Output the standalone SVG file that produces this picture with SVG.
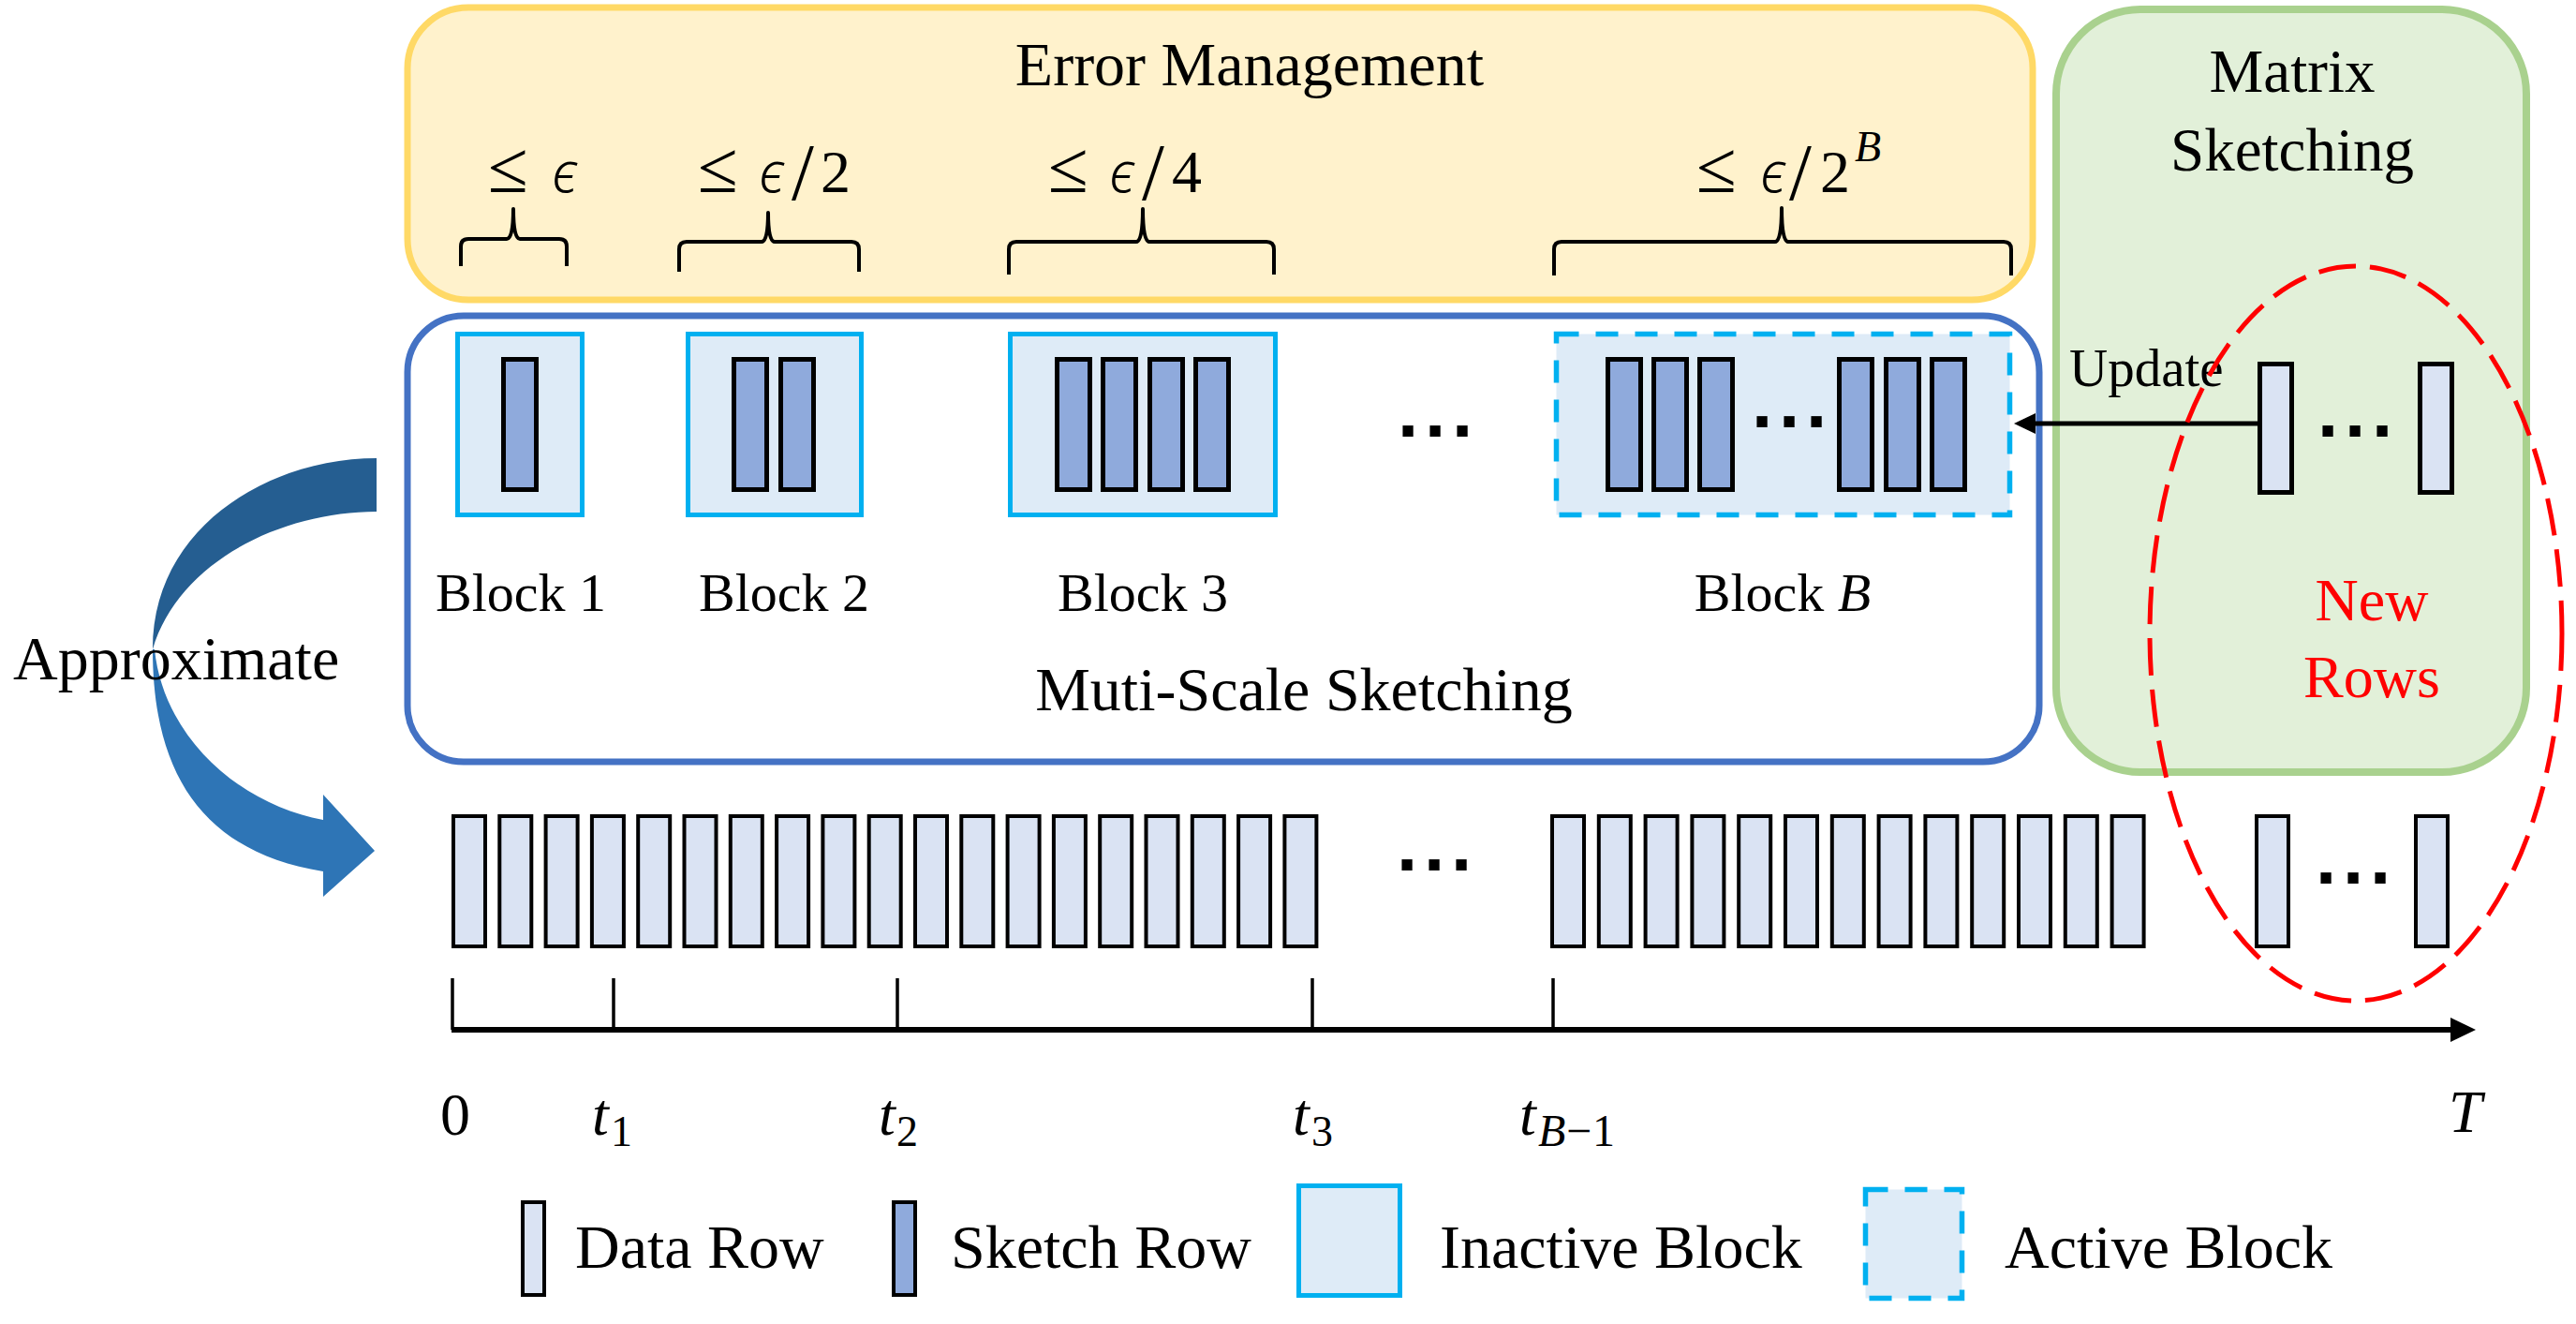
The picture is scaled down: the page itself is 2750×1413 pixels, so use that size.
<svg xmlns="http://www.w3.org/2000/svg" xmlns:xlink="http://www.w3.org/1999/xlink" width="2750" height="1413" viewBox="0 0 2750 1413">
<style>
  .t { font-family: "Liberation Serif", "DejaVu Serif", serif; fill: #000; }
  .m { font-family: "Liberation Serif", "DejaVu Serif", serif; fill: #000; font-size: 64px; }
  .le { font-size: 78px; }
  .sl { font-size: 86px; }
  .eps { font-family: "Noto Sans", "DejaVu Sans", sans-serif; font-style: italic; font-weight: 300; font-size: 60px; }
  .it { font-style: italic; }
  .dots { font-family: "Liberation Sans", sans-serif; font-weight: bold; font-size: 80px; letter-spacing: 6.8px; fill: #000; }
  .data { fill: #DAE3F3; stroke: #000; stroke-width: 4; }
  .sk { fill: #8FAADC; stroke: #000; stroke-width: 5; }
  .inact { fill: #DEEBF7; stroke: #00B0F0; stroke-width: 5; }
  .act { fill: #DEEBF7; stroke: #00B0F0; stroke-width: 5.5; stroke-dasharray: 24 18; }
  .brace { fill: none; stroke: #000; stroke-width: 4; stroke-linejoin: round; }
  .tick { stroke: #000; stroke-width: 3.5; }
  .red { fill: #FF0000; }
</style>
<defs>
  <rect id="dr" width="34" height="139" class="data"/>
  <rect id="sr" width="35" height="139" class="sk"/>
</defs>

<g id="error-management">
  <rect x="435" y="8" width="1735" height="312" rx="65" fill="#FFF2CC" stroke="#FFD966" stroke-width="7"/>
  <text class="t" x="1334" y="91" font-size="66" text-anchor="middle">Error Management</text>
  <text class="m" y="205"><tspan x="521" class="le">≤</tspan><tspan x="589" class="eps">ϵ</tspan></text>
  <text class="m" y="205"><tspan x="745" class="le">≤</tspan><tspan x="810" class="eps">ϵ</tspan><tspan x="845" y="213" class="sl">/</tspan><tspan x="876" y="205">2</tspan></text>
  <text class="m" y="205"><tspan x="1119" class="le">≤</tspan><tspan x="1184" class="eps">ϵ</tspan><tspan x="1219" y="213" class="sl">/</tspan><tspan x="1251" y="205">4</tspan></text>
  <text class="m" y="205"><tspan x="1811" class="le">≤</tspan><tspan x="1879" class="eps">ϵ</tspan><tspan x="1910" y="213" class="sl">/</tspan><tspan x="1943" y="205">2</tspan><tspan x="1980" y="172" class="it" font-size="46">B</tspan></text>
  <path class="brace" d="M492,284 L492,263 Q492,255 500,255 L541,255 Q548,255 548,223 Q548,255 555,255 L597,255 Q605,255 605,263 L605,284"/>
  <path class="brace" d="M725,290 L725,266 Q725,258 733,258 L813,258 Q820,258 820,227 Q820,258 827,258 L909,258 Q917,258 917,266 L917,290"/>
  <path class="brace" d="M1077,293 L1077,266 Q1077,258 1085,258 L1213,258 Q1220,258 1220,223 Q1220,258 1227,258 L1352,258 Q1360,258 1360,266 L1360,293"/>
  <path class="brace" d="M1659,294 L1659,266 Q1659,258 1667,258 L1895,258 Q1902,258 1902,222 Q1902,258 1909,258 L2139,258 Q2147,258 2147,266 L2147,294"/>
</g>

<g id="matrix-sketching">
  <rect x="2195" y="10" width="502" height="814" rx="90" fill="#E2F0D9" stroke="#A9D18E" stroke-width="8"/>
  <text class="t" x="2447" y="98" font-size="65" text-anchor="middle">Matrix</text>
  <text class="t" x="2447" y="182" font-size="65" text-anchor="middle">Sketching</text>
  <rect x="2412.5" y="388.5" width="34" height="137" fill="#DAE3F3" stroke="#000" stroke-width="5"/>
  <rect x="2583.5" y="388.5" width="34" height="137" fill="#DAE3F3" stroke="#000" stroke-width="5"/>
  <text class="dots" x="2474" y="466">...</text>
  <text class="t red" x="2532" y="662" font-size="64" text-anchor="middle">New</text>
  <text class="t red" x="2532" y="744" font-size="64" text-anchor="middle">Rows</text>
</g>

<g id="multi-scale-sketching">
  <rect x="435" y="337" width="1742" height="476" rx="60" fill="#FFFFFF" stroke="#4472C4" stroke-width="7"/>
  <g id="block-1">
    <rect class="inact" x="488.5" y="356.5" width="133" height="193"/>
    <use href="#sr" x="537.5" y="383.5"/>
    <text class="t" x="556" y="652" font-size="58" text-anchor="middle">Block 1</text>
  </g>
  <g id="block-2">
    <rect class="inact" x="734.5" y="356.5" width="185" height="193"/>
    <use href="#sr" x="783.5" y="383.5"/>
    <use href="#sr" x="833.5" y="383.5"/>
    <text class="t" x="837" y="652" font-size="58" text-anchor="middle">Block 2</text>
  </g>
  <g id="block-3">
    <rect class="inact" x="1078.5" y="356.5" width="283" height="193"/>
    <use href="#sr" x="1128.5" y="383.5"/>
    <use href="#sr" x="1177.5" y="383.5"/>
    <use href="#sr" x="1227.5" y="383.5"/>
    <use href="#sr" x="1276.5" y="383.5"/>
    <text class="t" x="1220" y="652" font-size="58" text-anchor="middle">Block 3</text>
  </g>
  <text class="dots" x="1492" y="466">...</text>
  <g id="block-b">
    <rect class="act" x="1661.5" y="356.5" width="484" height="193"/>
    <use href="#sr" x="1716.5" y="383.5"/>
    <use href="#sr" x="1765.5" y="383.5"/>
    <use href="#sr" x="1814.5" y="383.5"/>
    <text class="dots" x="1870" y="456">...</text>
    <use href="#sr" x="1963.5" y="383.5"/>
    <use href="#sr" x="2013.5" y="383.5"/>
    <use href="#sr" x="2062.5" y="383.5"/>
    <text class="t" x="1903" y="652" font-size="58" text-anchor="middle">Block <tspan class="it">B</tspan></text>
  </g>
  <text class="t" x="1392" y="758" font-size="66" text-anchor="middle">Muti-Scale Sketching</text>
</g>

<g id="data-stream">
  <use href="#dr" x="484" y="871"/><use href="#dr" x="533.3" y="871"/><use href="#dr" x="582.6" y="871"/><use href="#dr" x="631.9" y="871"/>
  <use href="#dr" x="681.2" y="871"/><use href="#dr" x="730.5" y="871"/><use href="#dr" x="779.8" y="871"/><use href="#dr" x="829.1" y="871"/>
  <use href="#dr" x="878.4" y="871"/><use href="#dr" x="927.7" y="871"/><use href="#dr" x="977" y="871"/><use href="#dr" x="1026.3" y="871"/>
  <use href="#dr" x="1075.6" y="871"/><use href="#dr" x="1124.9" y="871"/><use href="#dr" x="1174.2" y="871"/><use href="#dr" x="1223.5" y="871"/>
  <use href="#dr" x="1272.8" y="871"/><use href="#dr" x="1322.1" y="871"/><use href="#dr" x="1371.4" y="871"/>
  <text class="dots" x="1491" y="929">...</text>
  <use href="#dr" x="1657" y="871"/><use href="#dr" x="1706.8" y="871"/><use href="#dr" x="1756.6" y="871"/><use href="#dr" x="1806.4" y="871"/>
  <use href="#dr" x="1856.2" y="871"/><use href="#dr" x="1906" y="871"/><use href="#dr" x="1955.8" y="871"/><use href="#dr" x="2005.6" y="871"/>
  <use href="#dr" x="2055.4" y="871"/><use href="#dr" x="2105.2" y="871"/><use href="#dr" x="2155" y="871"/><use href="#dr" x="2204.8" y="871"/>
  <use href="#dr" x="2254.6" y="871"/>
  <use href="#dr" x="2409" y="871"/>
  <text class="dots" x="2472" y="943">...</text>
  <use href="#dr" x="2579" y="871"/>
</g>

<g id="timeline">
  <line x1="482" y1="1099" x2="2622" y2="1099" stroke="#000" stroke-width="6"/>
  <polygon points="2643,1099 2616,1086 2616,1112" fill="#000"/>
  <line class="tick" x1="483" y1="1044" x2="483" y2="1099"/>
  <line class="tick" x1="655" y1="1044" x2="655" y2="1099"/>
  <line class="tick" x1="958" y1="1044" x2="958" y2="1099"/>
  <line class="tick" x1="1401" y1="1044" x2="1401" y2="1099"/>
  <line class="tick" x1="1658" y1="1044" x2="1658" y2="1099"/>
  <text class="m" x="470" y="1211">0</text>
  <text class="m" y="1211"><tspan x="632" class="it">t</tspan><tspan x="652" y="1223" font-size="46">1</tspan></text>
  <text class="m" y="1211"><tspan x="938" class="it">t</tspan><tspan x="957" y="1223" font-size="46">2</tspan></text>
  <text class="m" y="1211"><tspan x="1380" class="it">t</tspan><tspan x="1400" y="1223" font-size="46">3</tspan></text>
  <text class="m" y="1211"><tspan x="1622" class="it">t</tspan><tspan x="1642" y="1223" font-size="48" class="it">B</tspan><tspan x="1672" y="1223" font-size="48">−</tspan><tspan x="1700" y="1223" font-size="48">1</tspan></text>
  <text class="m it" x="2614" y="1208">T</text>
</g>

<g id="connectors">
  <g id="update-arrow">
    <line x1="2410" y1="452" x2="2170" y2="452" stroke="#000" stroke-width="5"/>
    <polygon points="2150,452 2173,441 2173,463" fill="#000"/>
    <text class="t" x="2209" y="412" font-size="57">Update</text>
  </g>
  <g id="approximate-arrow">
    <path d="M402,489 C290,489 163,560 163,693 C190,600 300,546 402,546 Z" fill="#255E91"/>
    <path d="M163,693 C163,830 220,910 345,930 L345,957 L400,908 L345,848 L345,875 C260,860 175,790 165,693 Z" fill="#2E75B6"/>
    <text class="t" x="14" y="725" font-size="66">Approximate</text>
  </g>
</g>

<g id="new-rows-highlight">
  <ellipse cx="2515" cy="676" rx="220" ry="392" fill="none" stroke="#FF0000" stroke-width="5" stroke-dasharray="40 15"/>
</g>

<g id="legend">
  <rect class="data" x="558" y="1283" width="23" height="99"/>
  <text class="t" x="614" y="1353" font-size="66">Data Row</text>
  <rect x="954" y="1283" width="23" height="99" fill="#8FAADC" stroke="#000" stroke-width="4"/>
  <text class="t" x="1015" y="1353" font-size="66">Sketch Row</text>
  <rect class="inact" x="1386.5" y="1265.5" width="108" height="117"/>
  <text class="t" x="1537" y="1353" font-size="66">Inactive Block</text>
  <rect class="act" x="1991.5" y="1269.5" width="103" height="116"/>
  <text class="t" x="2140" y="1353" font-size="66">Active Block</text>
</g>
</svg>
